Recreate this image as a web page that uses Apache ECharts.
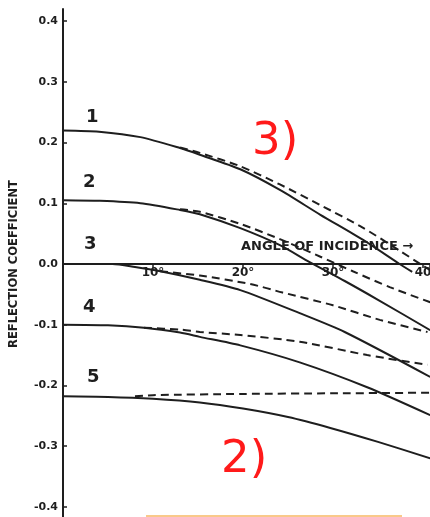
<!DOCTYPE html>
<html>
<head>
<meta charset="utf-8">
<script src="https://cdn.jsdelivr.net/npm/echarts@6/dist/echarts.min.js"></script>
<style>html,body{margin:0;padding:0;background:#fff;}#c{width:430px;height:517px;}</style>
</head>
<body>
<div id="c"></div>
<script>
// Data: [angle of incidence (deg), reflection coefficient]
const curve1Solid  = [[0,0.220],[4,0.218],[8.6,0.209],[13,0.191],[15.2,0.180],[19.7,0.156],[24.1,0.122],[28.6,0.081],[33.3,0.040],[37.4,0.000],[38.8,-0.013]];
const curve1Dashed = [[13,0.192],[15.2,0.183],[19.7,0.161],[24.1,0.131],[28.6,0.097],[33.3,0.060],[37.4,0.022],[39.7,0.000],[40.8,-0.010]];
const curve2Solid  = [[0,0.105],[4.1,0.104],[8.6,0.100],[13,0.089],[15.2,0.082],[19.7,0.059],[24.1,0.031],[27.4,0.003],[31.3,-0.028],[35,-0.059],[40.8,-0.109]];
const curve2Dashed = [[13,0.090],[15.2,0.086],[19.7,0.066],[24.1,0.041],[28.6,0.012],[32.2,-0.012],[36.3,-0.038],[40.8,-0.063]];
const curve3Solid  = [[0,0.000],[5.5,0.000],[8,-0.005],[10.8,-0.012],[15.2,-0.026],[19.7,-0.043],[26.3,-0.081],[31.3,-0.112],[40.8,-0.186]];
const curve3Dashed = [[10.8,-0.012],[15.2,-0.019],[20.8,-0.033],[24.4,-0.047],[30,-0.068],[35.2,-0.092],[40.5,-0.112]];
const curve4Solid  = [[0,-0.100],[5,-0.101],[9,-0.105],[13,-0.113],[15.2,-0.120],[19.7,-0.134],[26.3,-0.162],[33.8,-0.203],[40.8,-0.249]];
const curve4Dashed = [[9,-0.105],[13,-0.108],[15.2,-0.112],[19.7,-0.117],[26.3,-0.128],[33.8,-0.150],[40.5,-0.166]];
const curve5Solid  = [[0,-0.218],[5,-0.219],[10,-0.222],[15.2,-0.228],[20,-0.238],[25,-0.252],[29.7,-0.270],[35,-0.293],[40.8,-0.320]];
const curve5Dashed = [[8,-0.218],[10,-0.216],[20,-0.214],[30,-0.213],[40.8,-0.212]];
const yTicks = [-0.4,-0.3,-0.2,-0.1,0.0,0.1,0.2,0.3,0.4];
const xTickLabels = {10:'10°',20:'20°',30:'30°',40:'40'};
const curveNames = ['1','2','3','4','5'];

const INK = '#1e1e1e';
const FONT = 'DejaVu Sans';
function solid(name, data){return {name, type:'line', data, smooth:0.25, symbol:'none', lineStyle:{color:INK,width:2}, z:3};}
function dashed(name, data){return {name, type:'line', data, smooth:0.25, symbol:'none', lineStyle:{color:INK,width:2,type:[8,5]}, z:3};}

const chart = echarts.init(document.getElementById('c'), null, {renderer:'canvas'});
chart.setOption({
  animation:false,
  backgroundColor:'#fff',
  grid:{left:63, top:9, width:367.2, height:510, outerBoundsMode:'none', containLabel:false},
  xAxis:[{
    type:'value', min:0, max:40.8, interval:10,
    axisLine:{onZero:true, lineStyle:{color:INK,width:2}},
    axisTick:{show:true, length:4, lineStyle:{color:INK,width:1.5}},
    axisLabel:{show:false},
    splitLine:{show:false}
  },{
    type:'value', min:0, max:40.8, interval:10, position:'bottom', offset:-255,
    axisLine:{show:false, onZero:false},
    axisTick:{show:false},
    axisLabel:{show:true, showMinLabel:false, formatter:v=>xTickLabels[Math.round(v)]||'', color:INK, fontFamily:FONT, fontWeight:'bold', fontSize:12, margin:3},
    splitLine:{show:false}
  }],
  yAxis:{
    type:'value', min:-0.42, max:0.42,
    name:'REFLECTION COEFFICIENT', nameLocation:'middle', nameGap:43, nameRotate:90,
    nameTextStyle:{color:INK, fontFamily:FONT, fontWeight:'bold', fontSize:11.5},
    axisLine:{onZero:false, lineStyle:{color:INK,width:2}},
    axisTick:{show:true, inside:true, customValues:yTicks, length:4, lineStyle:{color:INK,width:1.5}},
    axisLabel:{customValues:yTicks, formatter:v=>v.toFixed(1), color:INK, fontFamily:FONT, fontWeight:'bold', fontSize:11, margin:5},
    splitLine:{show:false}
  },
  graphic:[
    {type:'text', left:241, top:240, style:{text:'ANGLE OF INCIDENCE →', fill:INK, font:'bold 13px "DejaVu Sans"'}},
    {type:'text', left:86, top:108, style:{text:curveNames[0], fill:INK, font:'bold 18px "DejaVu Sans"'}},
    {type:'text', left:83, top:173, style:{text:curveNames[1], fill:INK, font:'bold 18px "DejaVu Sans"'}},
    {type:'text', left:84, top:235, style:{text:curveNames[2], fill:INK, font:'bold 18px "DejaVu Sans"'}},
    {type:'text', left:83, top:298, style:{text:curveNames[3], fill:INK, font:'bold 18px "DejaVu Sans"'}},
    {type:'text', left:87, top:368, style:{text:curveNames[4], fill:INK, font:'bold 18px "DejaVu Sans"'}},
    {type:'text', left:252, top:120, style:{text:'3)', fill:'#ff1a1a', font:'45px "DejaVu Sans"'}},
    {type:'text', left:221, top:438, style:{text:'2)', fill:'#ff1a1a', font:'45px "DejaVu Sans"'}},
    {type:'rect', shape:{x:146, y:515, width:256, height:2}, style:{fill:'#f9c98a'}}
  ],
  series:[
    solid('1', curve1Solid), dashed('1d', curve1Dashed),
    solid('2', curve2Solid), dashed('2d', curve2Dashed),
    solid('3', curve3Solid), dashed('3d', curve3Dashed),
    solid('4', curve4Solid), dashed('4d', curve4Dashed),
    solid('5', curve5Solid), dashed('5d', curve5Dashed)
  ]
});
</script>
</body>
</html>
